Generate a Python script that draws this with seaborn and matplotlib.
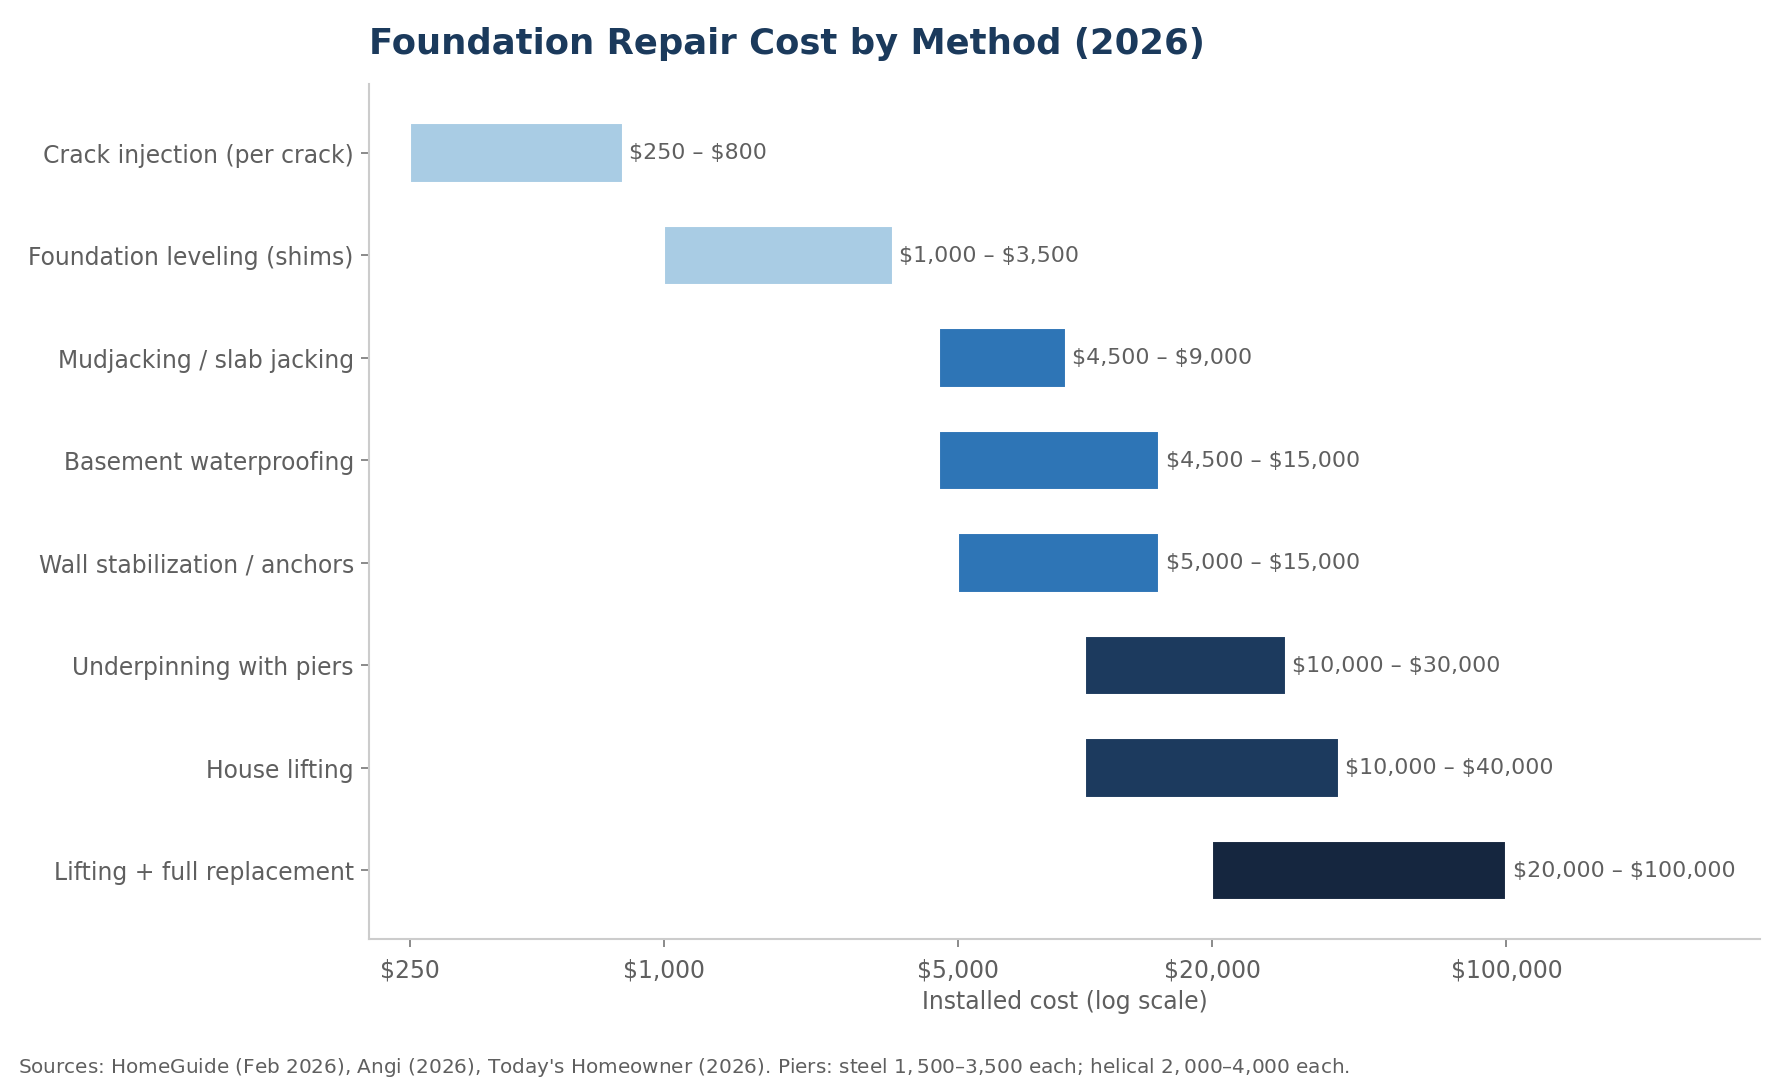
import matplotlib
matplotlib.use("Agg")
import matplotlib.pyplot as plt
import matplotlib.ticker as mticker
import seaborn as sns

# Data
methods = [
    "Crack injection (per crack)",
    "Foundation leveling (shims)",
    "Mudjacking / slab jacking",
    "Basement waterproofing",
    "Wall stabilization / anchors",
    "Underpinning with piers",
    "House lifting",
    "Lifting + full replacement",
]
low_cost = [250, 1000, 4500, 4500, 5000, 10000, 10000, 20000]
high_cost = [800, 3500, 9000, 15000, 15000, 30000, 40000, 100000]
bar_colors = ["#a9cce4", "#a9cce4", "#2e75b6", "#2e75b6", "#2e75b6",
              "#1c3a5e", "#1c3a5e", "#15263f"]
tick_values = [250, 1000, 5000, 20000, 100000]

sns.set_theme(style="white")
plt.rcParams["font.family"] = ["DejaVu Sans"]

text_grey = "#5f5f5f"
fig, ax = plt.subplots(figsize=(11.9, 7.25), dpi=150)
fig.subplots_adjust(left=0.207, right=0.986, top=0.922, bottom=0.136)

widths = [h - l for l, h in zip(low_cost, high_cost)]
ax.barh(methods, widths, left=low_cost, height=0.58, color=bar_colors)

for i, (l, h) in enumerate(zip(low_cost, high_cost)):
    ax.text(h * 1.035, i, f"\\${l:,} – \\${h:,}", va="center", ha="left",
            fontsize=10.6, color=text_grey)

ax.set_xscale("log")
ax.set_xlim(200, 400000)
ax.set_ylim(7.67, -0.67)
ax.xaxis.set_major_locator(mticker.FixedLocator(tick_values))
ax.xaxis.set_minor_locator(mticker.NullLocator())
ax.set_xticklabels([f"${v:,}" for v in tick_values])

ax.tick_params(axis="both", colors="#777777", labelcolor=text_grey,
               labelsize=11.3, length=4, width=0.8, left=True, bottom=True)
ax.tick_params(axis="x", pad=5)
ax.set_xlabel("Installed cost (log scale)", fontsize=11.3, color=text_grey,
              labelpad=3.5)
ax.set_ylabel("")

for side in ["top", "right"]:
    ax.spines[side].set_visible(False)
for side in ["left", "bottom"]:
    ax.spines[side].set_color("#cccccc")
    ax.spines[side].set_linewidth(1.0)

ax.set_title("Foundation Repair Cost by Method (2026)", loc="left",
             fontsize=17, fontweight="bold", color="#1b3a5c", pad=15)

fig.text(0.01, 0.018,
         "Sources: HomeGuide (Feb 2026), Angi (2026), Today's Homeowner (2026). "
         "Piers: steel $1,500–$3,500 each; helical $2,000–$4,000 each.",
         fontsize=9.6, color=text_grey, ha="left", va="center")

fig.savefig("out.png", dpi=150)
